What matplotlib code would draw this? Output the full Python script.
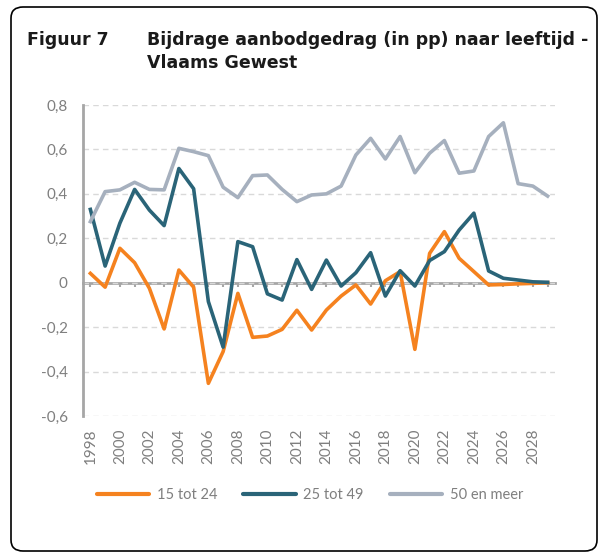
import numpy as np
import matplotlib
matplotlib.use("Agg")
import matplotlib.pyplot as plt
from matplotlib.patches import FancyBboxPatch

# Data (Vlaams Gewest).
years = list(range(1998, 2030))
jong = [0.042, -0.02, 0.155, 0.09, -0.025, -0.208, 0.057, -0.02, -0.453, -0.31,
        -0.048, -0.246, -0.24, -0.21, -0.124, -0.213, -0.123, -0.06, -0.01, -0.096,
        0.009, 0.05, -0.30, 0.132, 0.23, 0.11, 0.05, -0.01, -0.008, -0.005, -0.003, 0.0]
midden = [0.33, 0.075, 0.268, 0.42, 0.327, 0.257, 0.514, 0.423, -0.085, -0.29,
          0.185, 0.162, -0.05, -0.078, 0.104, -0.03, 0.102, -0.015, 0.045, 0.135,
          -0.06, 0.054, -0.015, 0.1, 0.14, 0.237, 0.313, 0.053, 0.02, 0.012, 0.004, 0.002]
oud = [0.275, 0.41, 0.418, 0.452, 0.42, 0.418, 0.605, 0.59, 0.572, 0.43,
       0.383, 0.482, 0.485, 0.42, 0.365, 0.395, 0.40, 0.435, 0.575, 0.65,
       0.557, 0.658, 0.495, 0.583, 0.64, 0.493, 0.503, 0.658, 0.72, 0.446, 0.435, 0.39]
labels = ["15 tot 24", "25 tot 49", "50 en meer"]
colors = ["#F5821F", "#2A6478", "#A6B0BE"]
yticks = [-0.6, -0.4, -0.2, 0, 0.2, 0.4, 0.6, 0.8]

plt.rcParams["font.family"] = ["Lato", "DejaVu Sans"]

W, H = 599, 553
fig = plt.figure(figsize=(W / 100, H / 100), dpi=100)

# rounded frame around the figure
frame = FancyBboxPatch((11 / W, 1 - 551 / H), (597 - 11) / W, (551 - 7) / H,
                       boxstyle="round,pad=0,rounding_size=0.02",
                       transform=fig.transFigure, fill=False, ec="black", lw=1.2)
fig.patches.append(frame)

# title, two lines
title_kw = dict(fontsize=12.5, fontweight="bold", family="DejaVu Sans",
                color="#1a1a1a", va="baseline")
fig.text(27 / W, 1 - 45 / H, "Figuur 7", **title_kw)
fig.text(147 / W, 1 - 45 / H, "Bijdrage aanbodgedrag (in pp) naar leeftijd -", **title_kw)
fig.text(147 / W, 1 - 68 / H, "Vlaams Gewest", **title_kw)

ax = fig.add_axes([83 / W, 1 - 416 / H, (555 - 83) / W, (416 - 105) / H])
x = np.arange(len(years))
for vals, lab, col in zip([jong, midden, oud], labels, colors):
    ax.plot(x, vals, color=col, lw=2.6, label=lab)

ax.set_xlim(-0.5, len(years) - 0.5)
ax.set_ylim(-0.6, 0.8)
ax.set_yticks(yticks)
ax.set_yticklabels([f"{v:.1f}".replace(".", ",") if v != 0 else "0" for v in yticks])
ax.set_xticks(x[::2])
ax.set_xticklabels([str(y) for y in years[::2]], rotation=90)
ax.tick_params(axis="both", length=0, colors="#7f7f7f", labelsize=11)
ax.tick_params(axis="y", pad=11)
ax.tick_params(axis="x", pad=9)

ax.grid(axis="y", color="#d9d9d9", lw=1, linestyle=(0, (4, 3)))
ax.set_axisbelow(True)
for s in ["top", "right", "bottom"]:
    ax.spines[s].set_visible(False)
ax.spines["left"].set_color("#a6a6a6")
ax.spines["left"].set_linewidth(2)

# category axis crossing at zero with small tick marks
sec = ax.secondary_xaxis(0, transform=ax.transData)
sec.set_xticks(x)
sec.tick_params(length=3, width=1.5, color="#a6a6a6", labelbottom=False, direction="out")
sec.spines["bottom"].set_color("#a6a6a6")
sec.spines["bottom"].set_linewidth(2)

leg = fig.legend(loc="center", bbox_to_anchor=(310 / W, 1 - 495 / H), ncol=3,
                 frameon=False, fontsize=10.5, handlelength=3.6, columnspacing=1.8,
                 handletextpad=0.5)
for t in leg.get_texts():
    t.set_color("#7f7f7f")
for h in leg.get_lines():
    h.set_linewidth(3)
    h.set_solid_capstyle("round")

fig.savefig("out.png", dpi=100)
